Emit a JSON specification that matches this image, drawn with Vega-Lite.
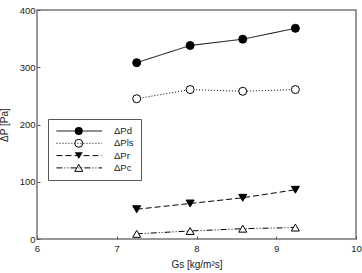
{
  "$schema": "https://vega.github.io/schema/vega-lite/v6.json",
  "width": 319,
  "height": 229,
  "autosize": {"type": "none"},
  "padding": {"left": 37, "top": 10, "right": 6, "bottom": 34},
  "background": "white",
  "config": {
    "view": {"stroke": "#777777", "strokeWidth": 1.5},
    "font": "Liberation Sans",
    "axis": {
      "grid": false,
      "domain": false,
      "tickColor": "#555555",
      "tickSize": -3,
      "labelFont": "Liberation Sans",
      "labelFontSize": 9.5,
      "labelColor": "#222222",
      "titleFont": "Liberation Sans",
      "titleFontSize": 10,
      "titleFontWeight": "normal",
      "titleColor": "#222222"
    }
  },
  "data": {
    "values": [
      {"Gs": 7.25, "dP": 308, "series": "ΔPd"},
      {"Gs": 7.92, "dP": 338, "series": "ΔPd"},
      {"Gs": 8.58, "dP": 349, "series": "ΔPd"},
      {"Gs": 9.24, "dP": 368, "series": "ΔPd"},
      {"Gs": 7.25, "dP": 245, "series": "ΔPls"},
      {"Gs": 7.92, "dP": 261, "series": "ΔPls"},
      {"Gs": 8.58, "dP": 258, "series": "ΔPls"},
      {"Gs": 9.24, "dP": 261, "series": "ΔPls"},
      {"Gs": 7.25, "dP": 52, "series": "ΔPr"},
      {"Gs": 7.92, "dP": 62, "series": "ΔPr"},
      {"Gs": 8.58, "dP": 72, "series": "ΔPr"},
      {"Gs": 9.24, "dP": 86, "series": "ΔPr"},
      {"Gs": 7.25, "dP": 9, "series": "ΔPc"},
      {"Gs": 7.92, "dP": 14, "series": "ΔPc"},
      {"Gs": 8.58, "dP": 18, "series": "ΔPc"},
      {"Gs": 9.24, "dP": 20, "series": "ΔPc"}
    ]
  },
  "encoding": {
    "x": {
      "field": "Gs", "type": "quantitative",
      "scale": {"domain": [6, 10], "nice": false, "zero": false},
      "axis": {"values": [6, 7, 8, 9, 10], "title": "Gs [kg/m²s]", "labelPadding": 7, "titlePadding": 7, "labelFlush": false}
    },
    "y": {
      "field": "dP", "type": "quantitative",
      "scale": {"domain": [0, 400], "nice": false},
      "axis": {"values": [0, 100, 200, 300, 400], "title": "ΔP [Pa]", "labelPadding": 5, "titlePadding": 10, "labelFlush": false}
    }
  },
  "resolve": {"scale": {"shape": "independent"}, "legend": {"shape": "independent"}},
  "layer": [
    {
      "mark": {"type": "line", "color": "black", "strokeWidth": 1},
      "encoding": {
        "strokeDash": {
          "field": "series", "type": "nominal",
          "scale": {"domain": ["ΔPd", "ΔPls", "ΔPr", "ΔPc"], "range": [[1, 0], [1, 2], [6, 3], [6, 2, 1, 2, 1, 2]]},
          "legend": {
            "orient": "none", "legendX": 11, "legendY": 109, "title": null, "zindex": 1,
            "symbolType": "M-5.7,0H5.7", "symbolSize": 64, "symbolStrokeColor": "black", "symbolStrokeWidth": 1,
            "symbolOffset": 19.5, "labelOffset": 30, "labelFont": "Liberation Sans", "labelFontSize": 9.5,
            "labelColor": "#222222", "clipHeight": 10, "rowPadding": 2.3, "padding": 7, "strokeColor": "#555555", "fillColor": "white"
          }
        }
      }
    },
    {
      "transform": [{"filter": {"field": "series", "oneOf": ["ΔPls", "ΔPc"]}}],
      "mark": {"type": "point", "filled": true, "color": "white", "size": 64, "opacity": 1},
      "encoding": {
        "shape": {
          "field": "series", "type": "nominal",
          "scale": {"domain": ["ΔPls", "ΔPc"], "range": ["circle", "triangle-up"]},
          "legend": null
        }
      }
    },
    {
      "transform": [{"filter": {"field": "series", "oneOf": ["ΔPd", "ΔPr"]}}],
      "mark": {"type": "point", "filled": true, "color": "black", "stroke": "black", "strokeWidth": 1, "size": 64, "opacity": 1},
      "encoding": {
        "shape": {
          "field": "series", "type": "nominal",
          "scale": {"domain": ["ΔPd", "ΔPr"], "range": ["circle", "triangle-down"]},
          "legend": {
            "orient": "none", "legendX": 11, "legendY": 109, "title": null, "zindex": 2,
            "symbolSize": 64, "symbolStrokeColor": "black", "symbolFillColor": "black", "symbolStrokeWidth": 1,
            "symbolOffset": 19, "labelOffset": 31.4, "labelFont": "Liberation Sans", "labelFontSize": 9.5, "labelOpacity": 0,
            "clipHeight": 10, "rowPadding": 14.6, "padding": 7
          }
        }
      }
    },
    {
      "transform": [{"filter": {"field": "series", "oneOf": ["ΔPls", "ΔPc"]}}],
      "mark": {"type": "point", "filled": false, "color": "black", "strokeWidth": 1, "size": 64, "opacity": 1},
      "encoding": {
        "shape": {
          "field": "series", "type": "nominal",
          "scale": {"domain": ["ΔPls", "ΔPc"], "range": ["circle", "triangle-up"]},
          "legend": {
            "orient": "none", "legendX": 11, "legendY": 121.3, "title": null, "zindex": 2,
            "symbolSize": 64, "symbolStrokeColor": "black", "symbolStrokeWidth": 1,
            "symbolOffset": 19, "labelOffset": 31.4, "labelFont": "Liberation Sans", "labelFontSize": 9.5, "labelOpacity": 0,
            "clipHeight": 10, "rowPadding": 14.6, "padding": 7
          }
        }
      }
    },
    {
      "data": {"values": [{}]},
      "mark": {"type": "text", "align": "left", "baseline": "top", "fontSize": 9.5, "lineHeight": 10, "color": "#222222", "font": "Liberation Sans",
        "text": ["I=50g", "Q=69.9sccm"]},
      "encoding": {
        "x": {"datum": 6.21},
        "y": {"datum": 314}
      }
    }
  ]
}
